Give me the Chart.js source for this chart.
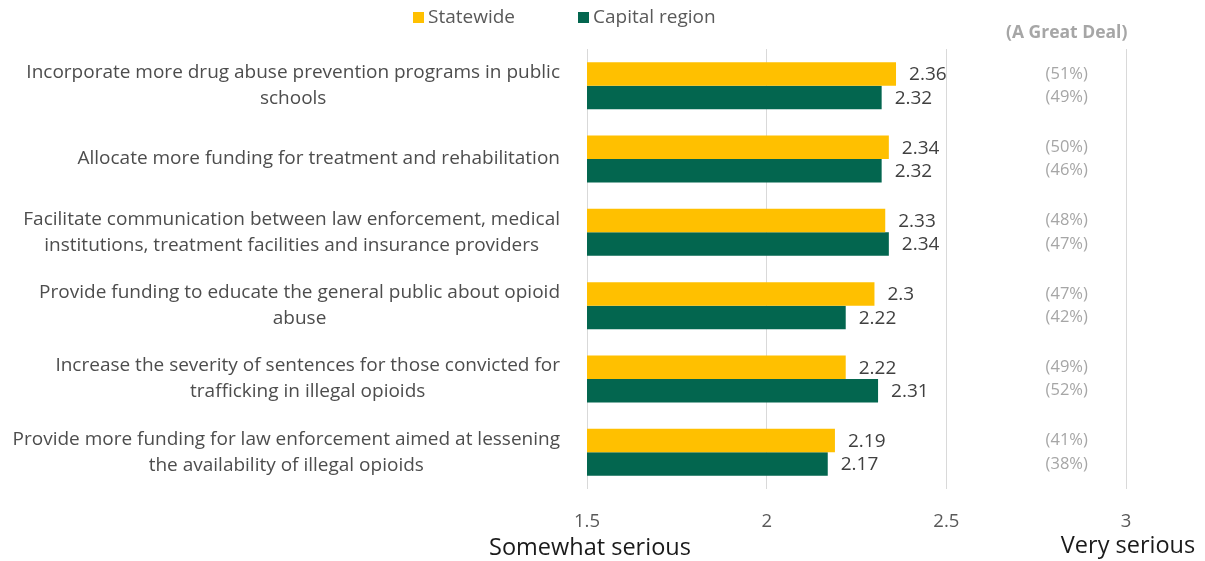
<!DOCTYPE html>
<html>
<head>
<meta charset="utf-8">
<script src="https://cdn.jsdelivr.net/npm/chart.js@4/dist/chart.umd.min.js"></script>
<style>
  html, body { margin: 0; padding: 0; background: #ffffff; }
  #wrap { width: 1205px; height: 561px; }
</style>
</head>
<body>
<div id="wrap"><canvas id="c" width="1205" height="561"></canvas></div>
<script>
const categories = [
  ["Incorporate more drug abuse prevention programs in public", "schools"],
  ["Allocate more funding for treatment and rehabilitation"],
  ["Facilitate communication between law enforcement, medical", "institutions, treatment facilities and insurance providers"],
  ["Provide funding to educate the general public about opioid", "abuse"],
  ["Increase the severity of sentences for those convicted for", "trafficking in illegal opioids"],
  ["Provide more funding for law enforcement aimed at lessening", "the availability of illegal opioids"]
];
const seriesNames = ["Statewide", "Capital region"];
const statewide = [2.36, 2.34, 2.33, 2.3, 2.22, 2.19];
const capital = [2.32, 2.32, 2.34, 2.22, 2.31, 2.17];
const greatDealStatewide = ["(51%)", "(50%)", "(48%)", "(47%)", "(49%)", "(41%)"];
const greatDealCapital = ["(49%)", "(46%)", "(47%)", "(42%)", "(52%)", "(38%)"];
const greatDealHeader = "(A Great Deal)";
const xMin = 1.5, xMax = 3, xStep = 0.5;
const lowCaption = "Somewhat serious";
const highCaption = "Very serious";

const YELLOW = "#FFC000";
const GREEN = "#03664F";
const FONT = "'Open Sans', 'Noto Sans', sans-serif";

const overlay = {
  id: 'overlay',
  afterDatasetsDraw(chart) {
    const ctx = chart.ctx;
    const xs = chart.scales.x;
    const ys = chart.scales.y;
    ctx.save();
    const pctSets = [greatDealStatewide, greatDealCapital];
    chart.data.datasets.forEach((ds, di) => {
      const meta = chart.getDatasetMeta(di);
      meta.data.forEach((bar, i) => {
        ctx.font = "19px " + FONT;
        ctx.fillStyle = "#404040";
        ctx.textAlign = "left";
        ctx.textBaseline = "middle";
        ctx.fillText(String(ds.data[i]), bar.x + 13, bar.y + 1);
        ctx.font = "16.5px " + FONT;
        ctx.fillStyle = "#a6a6a6";
        ctx.textAlign = "center";
        ctx.fillText(pctSets[di][i], xs.getPixelForValue(2.835), bar.y);
      });
    });
    ctx.font = "bold 17.5px " + FONT;
    ctx.fillStyle = "#a6a6a6";
    ctx.textAlign = "center";
    ctx.textBaseline = "middle";
    ctx.fillText(greatDealHeader, xs.getPixelForValue(2.835), 33);
    ctx.font = "19px " + FONT;
    ctx.fillStyle = "#4d4d4d";
    const rightEdge = 560;
    const lh = 26;
    categories.forEach((lines, i) => {
      const cy = ys.getPixelForValue(i);
      const widths = lines.map(l => ctx.measureText(l).width);
      const bw = Math.max(...widths);
      const cx = rightEdge - bw / 2;
      const y0 = cy - (lines.length - 1) * lh / 2;
      ctx.textAlign = "center";
      lines.forEach((l, k) => ctx.fillText(l, cx, y0 + k * lh));
    });
    ctx.font = "23.5px " + FONT;
    ctx.fillStyle = "#1a1a1a";
    ctx.textAlign = "center";
    ctx.fillText(lowCaption, xs.getPixelForValue(xMin) + 3, 548);
    ctx.fillText(highCaption, xs.getPixelForValue(xMax) + 2, 546);
    ctx.font = "19px " + FONT;
    ctx.textAlign = "left";
    const legend = [[413, YELLOW], [578, GREEN]];
    seriesNames.forEach((n, i) => {
      ctx.fillStyle = legend[i][1];
      ctx.fillRect(legend[i][0], 12, 11, 11);
      ctx.fillStyle = "#595959";
      ctx.fillText(n, legend[i][0] + 15, 18);
    });
    ctx.restore();
  }
};

new Chart(document.getElementById('c'), {
  type: 'bar',
  data: {
    labels: categories,
    datasets: [
      { label: seriesNames[0], data: statewide, backgroundColor: YELLOW, barPercentage: 1, categoryPercentage: 0.64 },
      { label: seriesNames[1], data: capital, backgroundColor: GREEN, barPercentage: 1, categoryPercentage: 0.64 }
    ]
  },
  options: {
    indexAxis: 'y',
    responsive: false,
    animation: false,
    events: [],
    layout: { padding: { top: 49, right: 79, left: 0, bottom: 0 } },
    plugins: { legend: { display: false }, tooltip: { enabled: false } },
    scales: {
      x: {
        min: xMin, max: xMax,
        ticks: {
          stepSize: xStep, color: "#595959", font: { size: 18.5, family: FONT }, padding: 22,
          callback: (v) => String(Math.round(v * 10) / 10)
        },
        grid: { color: "#d9d9d9", drawTicks: false, lineWidth: 1 },
        border: { display: false },
        afterFit(s) { s.height = 72; }
      },
      y: {
        ticks: { display: false },
        grid: { display: false },
        border: { display: false },
        afterFit(s) { s.width = 587; }
      }
    }
  },
  plugins: [overlay]
});
</script>
</body>
</html>
